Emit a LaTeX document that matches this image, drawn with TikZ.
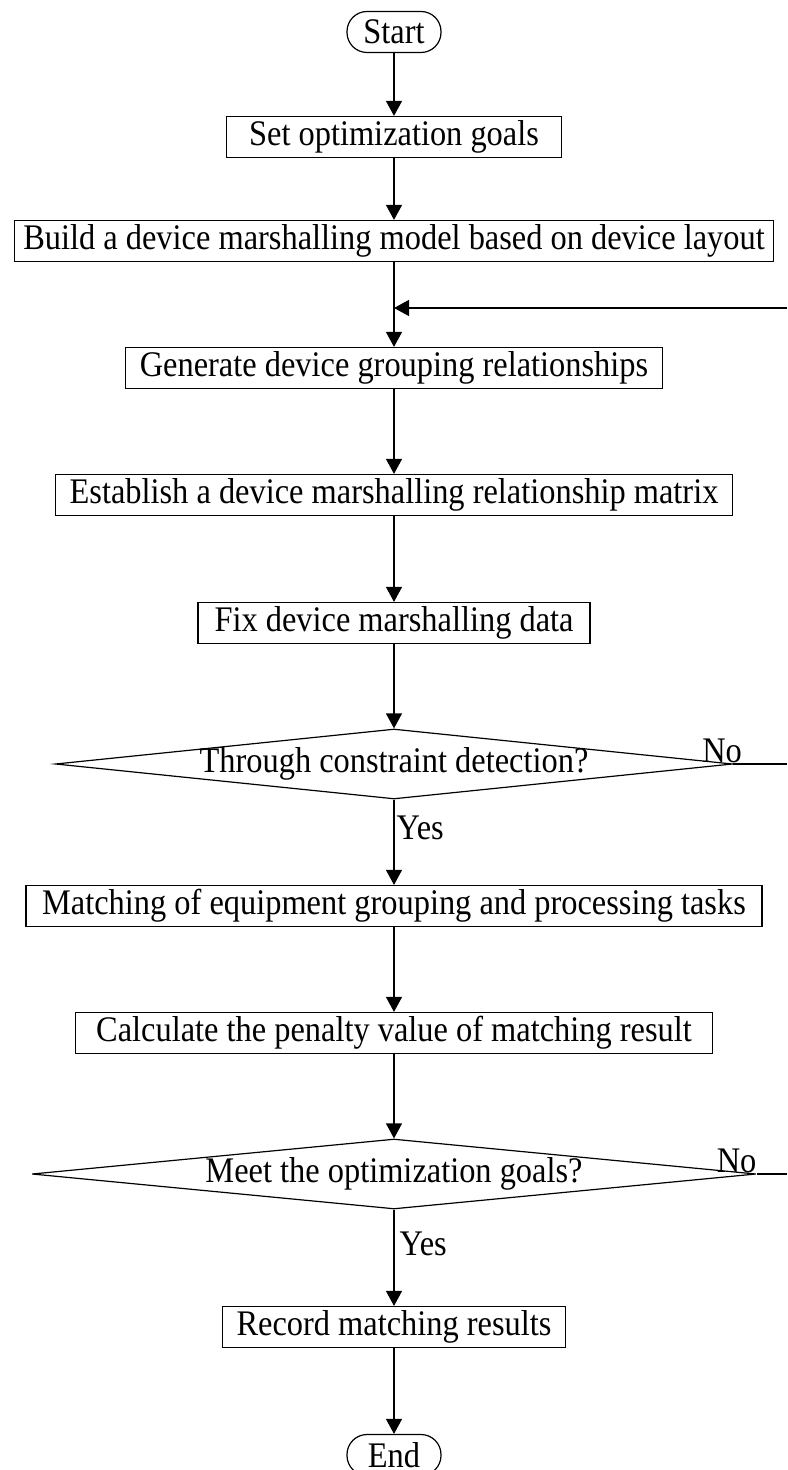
\documentclass[tikz,border=0pt]{standalone}
\usepackage{fontspec}
\setmainfont[FakeStretch=0.9]{Liberation Serif}
\usetikzlibrary{arrows.meta,shapes,positioning}
\usetikzlibrary{shapes.geometric}
\tikzstyle{terminal} = [rectangle, rounded corners=10pt, minimum width=47pt, minimum height=20.5pt, text centered, draw=black, line width=0.6pt, inner sep=2pt]
\tikzstyle{process} = [rectangle, minimum height=20.5pt, text centered, draw=black, line width=0.6pt, inner xsep=3pt, inner ysep=1.5pt]
\tikzstyle{decision} = [diamond, aspect=9, minimum height=35pt, text centered, draw=black, line width=0.6pt, inner xsep=0pt, inner ysep=-2pt]
\tikzstyle{arrow} = [line width=0.6pt,-{Triangle[length=7.5pt,width=8pt]}]
\tikzstyle{line} = [line width=0.6pt]

\begin{document}
\begin{tikzpicture}[node distance=63.5pt, font=\fontsize{18pt}{20pt}\selectfont]
    \useasboundingbox (-197pt,16pt) rectangle (196.5pt,-719pt);
    \node (start) [terminal] {Start};
    \node (goals) [process, below of=start, node distance=52.5pt, minimum width=167.5pt] {Set optimization goals};
    \node (model) [process, below of=goals, node distance=52pt, minimum width=379.5pt] {Build a device marshalling model based on device layout};
    \node (group) [process, below of=model, minimum width=268.5pt] {Generate device grouping relationships};
    \node (relmat) [process, below of=group, minimum width=338.5pt] {Establish a device marshalling relationship matrix};
    \node (fixdata) [process, below of=relmat, node distance=64pt, minimum width=196pt] {Fix device marshalling data};
    \node (check) [decision, below of=fixdata, node distance=70.5pt, minimum width=338.5pt] {Through constraint detection?};
    \node (match) [process, below of=check, node distance=71pt, minimum width=368pt] {Matching of equipment grouping and processing tasks};
    \node (penalty) [process, below of=match, minimum width=318.5pt] {Calculate the penalty value of matching result};
    \node (goalmet) [decision, below of=penalty, node distance=70.5pt, minimum width=362pt] {Meet the optimization goals?};
    \node (record) [process, below of=goalmet, node distance=76.5pt, minimum width=171.5pt] {Record matching results};
    \node (end) [terminal, below of=record, node distance=64pt] {End};
    % right edge, where the loop lines leave the picture
    \coordinate (edge) at (196.5pt,0);
    \coordinate (loopin) at (196.5pt,-138pt);
    \draw [arrow] (start) -- (goals);
    \draw [arrow] (goals) -- (model);
    \draw [arrow] (model) -- (group);
    \draw [arrow] (loopin) -- (loopin -| model);
    \draw [arrow] (group) -- (relmat);
    \draw [arrow] (relmat) -- (fixdata);
    \draw [arrow] (fixdata) -- (check);
    \draw [arrow] (check) -- node [pos=0.33, right, inner sep=1pt] {Yes} (match);
    \draw [line] (check.east) -- node [pos=0, above, xshift=-5.5pt, inner sep=0.5pt] {No} (check.east -| edge);
    \draw [arrow] (match) -- (penalty);
    \draw [arrow] (penalty) -- (goalmet);
    \draw [arrow] (goalmet) -- node [pos=0.36, right, inner sep=2.5pt] {Yes} (record);
    \draw [line] (goalmet.east) -- node [pos=0, above, xshift=-10pt, inner sep=0.5pt] {No} (goalmet.east -| edge);
    \draw [arrow] (record) -- (end);
\end{tikzpicture}
\end{document}
